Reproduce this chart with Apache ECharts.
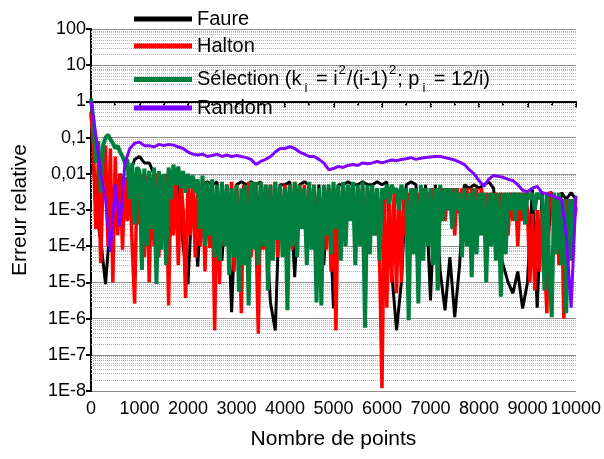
<!DOCTYPE html>
<html>
<head>
<meta charset="utf-8">
<script src="https://cdn.jsdelivr.net/npm/echarts@6/dist/echarts.min.js"></script>
<style>
  html, body { margin: 0; padding: 0; background: #fff; }
  #main { width: 604px; height: 459px; }
</style>
</head>
<body>
<div id="main"></div>
<script>
// fine series are sampled every 50 points, coarse ones every 100
const fineStep = 50;
const coarseStep = 100;

const faureVals = [
  0.5, 1e-3, 1.5e-4, 9e-6, 5e-4, 2e-3, 0.01, 0.005, 0.01, 0.025,
  0.03, 0.02, 0.02, 0.01, 0.008, 0.006, 0.005, 0.006, 0.005, 1e-4,
  9e-6, 0.005, 2.7e-5, 0.005, 0.006, 0.005, 0.006, 4e-5, 0.005, 1.5e-6,
  0.005, 0.006, 0.005, 0.006, 0.005, 0.006, 5e-4, 2.8e-6, 4.7e-7, 0.005,
  0.005, 0.006, 1.4e-5, 0.005, 0.006, 0.005, 1e-4, 0.005, 3e-5, 0.005,
  1.9e-6, 0.005, 0.005, 0.006, 0.005, 0.005, 0.006, 0.005, 0.005, 0.006,
  0.005, 0.006, 2e-5, 4.7e-7, 1e-5, 0.005, 0.006, 0.005, 1e-4, 0.005,
  3.2e-6, 0.005, 2e-5, 1.7e-6, 5e-5, 1.1e-6, 3e-5, 0.005, 0.004, 0.005,
  0.004, 0.005, 0.006, 0.004, 1e-4, 3e-5, 1e-5, 5e-6, 2e-5, 1.9e-6,
  1e-5, 0.004, 2e-6, 0.003, 5e-5, 0.003, 1e-4, 0.003, 0.002, 0.003,
  0.002
];

const haltonVals = [
  0.5, 0.05, 3e-4, 0.02, 3.4e-5, 0.01, 0.06, 1e-4, 0.05, 1e-5,
  0.03, 2e-4, 0.01, 8e-5, 0.008, 5e-4, 0.009, 1e-4, 2.6e-6, 0.008,
  4e-4, 0.01, 5e-5, 0.009, 1e-5, 0.008, 1e-4, 0.01, 5e-5, 0.009,
  6e-4, 0.01, 2.3e-6, 0.008, 2e-4, 0.009, 3e-5, 0.008, 1e-3, 3.7e-6,
  0.007, 2e-4, 0.008, 5e-5, 0.006, 1e-4, 0.007, 2e-5, 0.006, 9e-5,
  0.006, 4.7e-7, 0.005, 9e-6, 0.006, 1e-4, 0.005, 3e-4, 0.006, 2e-5,
  0.005, 4e-4, 1.4e-6, 0.005, 1e-4, 0.006, 5e-5, 0.006, 3e-4, 3.8e-7,
  0.006, 8e-5, 0.005, 1e-3, 0.005, 2e-4, 0.006, 5e-5, 0.005, 2e-4,
  0.005, 6e-4, 0.005, 8e-5, 0.006, 1e-3, 0.005, 3e-4, 0.005, 1e-4,
  0.004, 5e-4, 0.005, 2e-5, 0.004, 1e-4, 0.004, 8e-5, 0.004, 2e-5,
  0.004, 4.7e-7, 0.004, 1e-4, 0.004, 3e-4, 0.004, 1e-3, 0.004, 2e-4,
  0.004, 6e-4, 0.004, 3e-4, 0.004, 1e-3, 0.004, 2e-4, 0.003, 5e-5,
  1.2e-8, 0.003, 2e-6, 0.003, 1e-5, 0.003, 5e-6, 0.003, 1e-5, 0.003,
  2e-4, 0.003, 8e-4, 0.004, 2e-4, 0.003, 5e-4, 0.004, 1e-3, 0.003,
  3e-4, 0.004, 8e-4, 0.004, 1e-3, 0.004, 5e-4, 0.004, 1e-3, 0.004,
  2e-4, 0.004, 8e-4, 0.004, 1e-3, 0.004, 6e-4, 0.004, 1e-3, 0.004,
  5e-4, 0.004, 1e-3, 0.003, 2e-4, 0.003, 1e-3, 0.003, 5e-4, 0.003,
  8e-4, 0.003, 2e-4, 0.003, 5e-4, 0.003, 1e-4, 0.003, 5e-4, 0.003,
  1e-3, 1e-5, 8e-4, 6e-6, 1e-3, 2e-5, 1e-3, 5e-5, 1.4e-6, 0.003,
  0.003, 2e-4, 0.002, 3e-5, 0.002, 1e-6, 0.002, 1e-4, 0.002, 5e-4,
  1e-3
];

const selectionVals = [
  1.2, 0.3, 0.02, 0.08, 0.003, 0.06, 0.1, 0.12, 0.09, 0.07,
  0.05, 0.06, 0.04, 0.03, 0.02, 0.025, 2e-3, 0.02, 4e-4, 0.015,
  0.012, 2.2e-5, 0.014, 1e-4, 0.012, 3e-4, 0.015, 9e-6, 0.012, 8e-5,
  0.01, 3e-5, 0.015, 2e-3, 0.018, 5e-3, 0.016, 4e-3, 0.012, 3e-3,
  0.01, 4e-3, 0.009, 3e-3, 0.007, 3e-4, 0.009, 1e-4, 0.006, 2e-4,
  0.007, 5e-5, 0.005, 4e-5, 0.006, 1e-4, 0.005, 1.6e-5, 0.004, 5e-5,
  0.005, 5.5e-6, 0.004, 3e-5, 0.005, 2.3e-6, 0.006, 8e-5, 0.006, 3e-5,
  0.006, 1e-4, 0.005, 6e-6, 0.005, 4e-5, 0.006, 1.5e-4, 0.005, 5e-5,
  0.004, 1.7e-6, 0.005, 1e-4, 0.006, 5e-5, 0.005, 3e-4, 0.004, 3e-5,
  0.006, 8e-5, 0.005, 2.8e-6, 0.004, 2.3e-6, 0.005, 2e-4, 0.005, 6e-5,
  0.006, 3e-4, 0.005, 4e-5, 0.006, 1e-4, 0.005, 5e-4, 0.006, 3e-5,
  0.005, 1e-4, 0.006, 5.6e-7, 0.005, 6e-5, 0.005, 2e-4, 0.004, 4e-5,
  0.004, 2e-3, 0.005, 1.5e-3, 0.005, 3e-3, 0.004, 1e-3, 0.005, 2e-3,
  0.004, 9e-7, 0.004, 6e-5, 0.004, 2.6e-6, 0.005, 4e-5, 0.004, 1e-4,
  0.004, 3e-5, 0.004, 6e-6, 0.005, 5e-4, 0.004, 1e-3, 0.004, 3e-4,
  0.004, 1e-3, 0.003, 5e-5, 0.004, 1e-4, 0.003, 1.4e-5, 0.004, 6e-5,
  0.003, 2e-4, 0.003, 1e-5, 0.003, 1e-4, 0.003, 4e-5, 0.003, 4e-6,
  0.003, 6e-5, 0.003, 1e-3, 0.003, 5e-4, 0.003, 1e-3, 0.003, 4e-4,
  0.003, 2e-3, 0.003, 1e-3, 0.003, 2e-3, 0.003, 6e-6, 0.003, 2e-5,
  1.1e-6, 0.003, 6e-5, 0.003, 3e-5, 0.002, 1.4e-6, 0.002, 4e-5, 0.002,
  0.001
];

const randomVals = [
  1, 0.12, 0.01, 0.002, 7e-5, 5e-3, 3.5e-4, 0.02, 0.05, 0.07,
  0.075, 0.06, 0.06, 0.055, 0.065, 0.06, 0.065, 0.062, 0.055, 0.05,
  0.04, 0.035, 0.033, 0.035, 0.03, 0.032, 0.035, 0.03, 0.033, 0.03,
  0.032, 0.03, 0.028, 0.025, 0.018, 0.022, 0.025, 0.03, 0.04, 0.05,
  0.05, 0.056, 0.05, 0.04, 0.035, 0.03, 0.03, 0.025, 0.02, 0.013,
  0.014, 0.016, 0.015, 0.017, 0.018, 0.017, 0.02, 0.019, 0.02, 0.022,
  0.02, 0.022, 0.024, 0.023, 0.025, 0.026, 0.028, 0.025, 0.027, 0.028,
  0.029, 0.03, 0.03, 0.028, 0.026, 0.024, 0.021, 0.018, 0.013, 0.01,
  0.0065, 0.0045, 0.007, 0.009, 0.0085, 0.008, 0.007, 0.0065, 0.005, 0.0035,
  0.0032, 0.004, 0.0045, 0.003, 0.0028, 0.0025, 0.0022, 0.002, 2e-4, 2e-6,
  0.0025
];

const font = 'Liberation Sans, Arial, sans-serif';

// the y axis is a decade scale: plot log10 of each value on a linear axis
function pairs(vals, step) {
  return vals.map((v, i) => [i * step, Math.log10(v)]);
}

// dotted minor grid lines at 2..9 of each decade
const minorLines = [];
for (let e = -8; e < 2; e++) {
  for (let m = 2; m <= 9; m++) {
    minorLines.push({ yAxis: e + Math.log10(m) });
  }
}

function yLabel(e) {
  e = Math.round(e);
  if (e >= 0) return String(Math.pow(10, e));
  if (e === -1) return '0,1';
  if (e === -2) return '0,01';
  return '1E' + e;
}

const legendBase = {
  left: 134,
  orient: 'vertical',
  icon: 'rect',
  itemWidth: 58,
  itemHeight: 5,
  padding: 0,
  selectedMode: false,
  textStyle: { fontFamily: font, fontSize: 20, color: '#000' }
};

const chart = echarts.init(document.getElementById('main'));
chart.setOption({
  animation: false,
  backgroundColor: '#fff',
  grid: { left: 91, right: 27, top: 29, bottom: 68 },
  legend: [
    Object.assign({}, legendBase, { data: ['Faure'], top: 9 }),
    Object.assign({}, legendBase, { data: ['Halton'], top: 36 }),
    Object.assign({}, legendBase, {
      data: ['Sélection'], top: 64,
      formatter: () => '{n|Sélection (k}{sub|i}{n| = i}{sup|2}{n|/(i-1)}{sup|2}{n|; p}{sub|i}{n| = 12/i)}',
      textStyle: {
        fontFamily: font, fontSize: 20, color: '#000',
        rich: {
          n: { fontFamily: font, fontSize: 20, color: '#000' },
          sub: { fontFamily: font, fontSize: 13, color: '#000', padding: [18, 3, 0, 3] },
          sup: { fontFamily: font, fontSize: 13, color: '#000', padding: [0, 1, 18, 1] }
        }
      }
    }),
    Object.assign({}, legendBase, { data: ['Random'], top: 98 })
  ],
  xAxis: {
    type: 'value',
    min: 0,
    max: 10000,
    interval: 1000,
    name: 'Nombre de points',
    nameLocation: 'middle',
    nameGap: 38,
    nameTextStyle: { fontFamily: font, fontSize: 21, color: '#000' },
    axisLine: { lineStyle: { color: '#000', width: 2 } },
    axisTick: { length: 6, lineStyle: { color: '#000', width: 2 } },
    minorTick: { show: true, splitNumber: 2, length: 4, lineStyle: { color: '#000', width: 2 } },
    axisLabel: {
      fontFamily: font, fontSize: 18, color: '#000', margin: 9,
      showMinLabel: true, showMaxLabel: true, hideOverlap: false,
      formatter: v => String(v)
    },
    splitLine: { show: false }
  },
  yAxis: {
    type: 'value',
    min: -8,
    max: 2,
    interval: 1,
    name: 'Erreur relative',
    nameLocation: 'middle',
    nameGap: 60,
    nameTextStyle: { fontFamily: font, fontSize: 21, color: '#000' },
    axisLine: { show: true, lineStyle: { color: '#000', width: 2 } },
    axisTick: { show: true, length: 5, lineStyle: { color: '#000', width: 2 } },
    axisLabel: {
      fontFamily: font, fontSize: 18, color: '#000', margin: 5,
      showMinLabel: true, showMaxLabel: true, formatter: yLabel
    },
    splitLine: { show: true, lineStyle: { color: '#8c8c8c', width: 1 } }
  },
  series: [
    {
      name: 'grid',
      type: 'line',
      data: [],
      silent: true,
      markLine: {
        silent: true,
        z: 1,
        symbol: ['none', 'none'],
        label: { show: false },
        lineStyle: { color: '#b4b4b4', width: 1, type: [1, 1] },
        data: minorLines
      }
    },
    {
      name: 'Faure', type: 'line', showSymbol: false, color: '#000000',
      lineStyle: { width: 3 }, data: pairs(faureVals, coarseStep)
    },
    {
      name: 'Halton', type: 'line', showSymbol: false, color: '#ff0000',
      lineStyle: { width: 3.5 }, data: pairs(haltonVals, fineStep)
    },
    {
      name: 'Sélection', type: 'line', showSymbol: false, color: '#007f3f',
      lineStyle: { width: 4 }, data: pairs(selectionVals, fineStep)
    },
    {
      name: 'Random', type: 'line', showSymbol: false, color: '#8000ff',
      lineStyle: { width: 3 }, data: pairs(randomVals, coarseStep)
    }
  ]
});
</script>
</body>
</html>
